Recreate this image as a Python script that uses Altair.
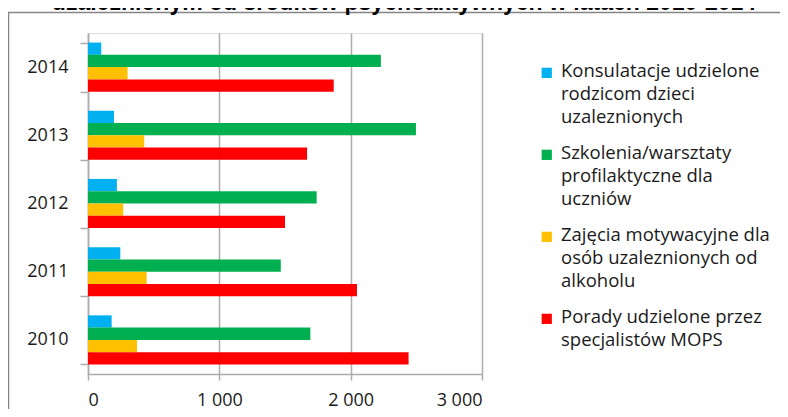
import altair as alt
import pandas as pd

years = ["2010", "2011", "2012", "2013", "2014"]
series = [
    "Konsulatacje udzielone rodzicom dzieci uzaleznionych",
    "Szkolenia/warsztaty profilaktyczne dla uczniów",
    "Zajęcia motywacyjne dla osób uzaleznionych od alkoholu",
    "Porady udzielone przez specjalistów MOPS",
]
legend_lines = [
    ["Konsulatacje udzielone", "rodzicom dzieci", "uzaleznionych"],
    ["Szkolenia/warsztaty", "profilaktyczne dla", "uczniów"],
    ["Zajęcia motywacyjne dla", "osób uzaleznionych od", "alkoholu"],
    ["Porady udzielone przez", "specjalistów MOPS"],
]
colors = ["#00B0F0", "#00B050", "#FFC000", "#FF0000"]
konsultacje = [180, 246, 220, 198, 101]
szkolenia = [1693, 1468, 1741, 2497, 2230]
zajecia = [373, 446, 268, 428, 301]
porady = [2441, 2048, 1500, 1668, 1871]
x_ticks = [0, 1000, 2000, 3000]
title_text = "uzależnionym od środków psychoaktywnych w latach 2010-2014"

values_by_series = [konsultacje, szkolenia, zajecia, porady]
rows = []
for s, vals in zip(series, values_by_series):
    for y, v in zip(years, vals):
        rows.append({"year": y, "series": s, "value": v})
df = pd.DataFrame(rows)

# legend label expression: multi-line labels
expr = "datum.label"
for s, lines in reversed(list(zip(series, legend_lines))):
    arr = "[" + ",".join("'" + l + "'" for l in lines) + "]"
    expr = f"datum.label == '{s}' ? {arr} : ({expr})"

FONT = "Open Sans"
GRID = "#ADADAD"

bars = alt.Chart(df).mark_bar().encode(
    x=alt.X(
        "value:Q",
        scale=alt.Scale(domain=[0, 3000], nice=False),
        axis=alt.Axis(
            values=x_ticks,
            title=None,
            labelExpr="replace(format(datum.value, ','), ',', ' ')",
            grid=True,
            gridColor=GRID,
            gridWidth=1.5,
            domainColor=GRID,
            domainWidth=1.5,
            tickColor=GRID,
            tickWidth=1.5,
            tickSize=6,
            labelFont=FONT,
            labelFontSize=18,
            labelColor="#1a1a1a",
            labelBaseline="alphabetic",
            labelPadding=25,
        ),
    ),
    y=alt.Y(
        "year:N",
        sort=years[::-1],
        scale=alt.Scale(paddingInner=0.28, paddingOuter=0.14),
        axis=alt.Axis(
            title=None,
            tickBand="extent",
            tickSize=8,
            tickColor=GRID,
            tickWidth=1.5,
            domainColor=GRID,
            domainWidth=1.5,
            labelPadding=12,
            labelFont=FONT,
            labelFontSize=18,
            labelColor="#1a1a1a",
        ),
    ),
    yOffset=alt.YOffset(
        "series:N", sort=series, scale=alt.Scale(paddingInner=0, paddingOuter=0)
    ),
    color=alt.Color(
        "series:N",
        sort=series,
        scale=alt.Scale(domain=series, range=colors),
        legend=alt.Legend(
            orient="none",
            legendX=449.5,
            legendY=35,
            title=None,
            symbolType="M-1,-1.86H1V0.14H-1Z",
            symbolSize=105,
            symbolStrokeWidth=0,
            labelFont=FONT,
            labelFontSize=18.5,
            labelColor="#1a1a1a",
            labelExpr=expr,
            labelBaseline="alphabetic",
            labelOffset=5,
            labelLimit=400,
            rowPadding=17,
            padding=0,
        ),
    ),
)

frame = alt.Chart(pd.DataFrame({"a": [0]})).mark_rect(
    fillOpacity=0, stroke="#858585", strokeWidth=1.5
).encode(
    x=alt.value(-79.5), x2=alt.value(900), y=alt.value(-20.5), y2=alt.value(600)
)

title = alt.Chart(pd.DataFrame({"t": [title_text]})).mark_text(
    font="Liberation Sans", fontWeight="bold", fontSize=23, align="center",
    baseline="alphabetic", color="#000000"
).encode(x=alt.value(316), y=alt.value(-23), text=alt.Text("t:N"))

chart = alt.layer(frame, bars, title).properties(
    width=394,
    height=341,
    padding={"left": 80, "top": 25, "right": 298, "bottom": 35},
    autosize=alt.AutoSizeParams(type="none"),
).configure_view(stroke=None).configure(
    style={"guide-label": {"lineHeight": 22.7}}
)

chart.save("out.html", embed_options={"renderer": "svg", "actions": False})
